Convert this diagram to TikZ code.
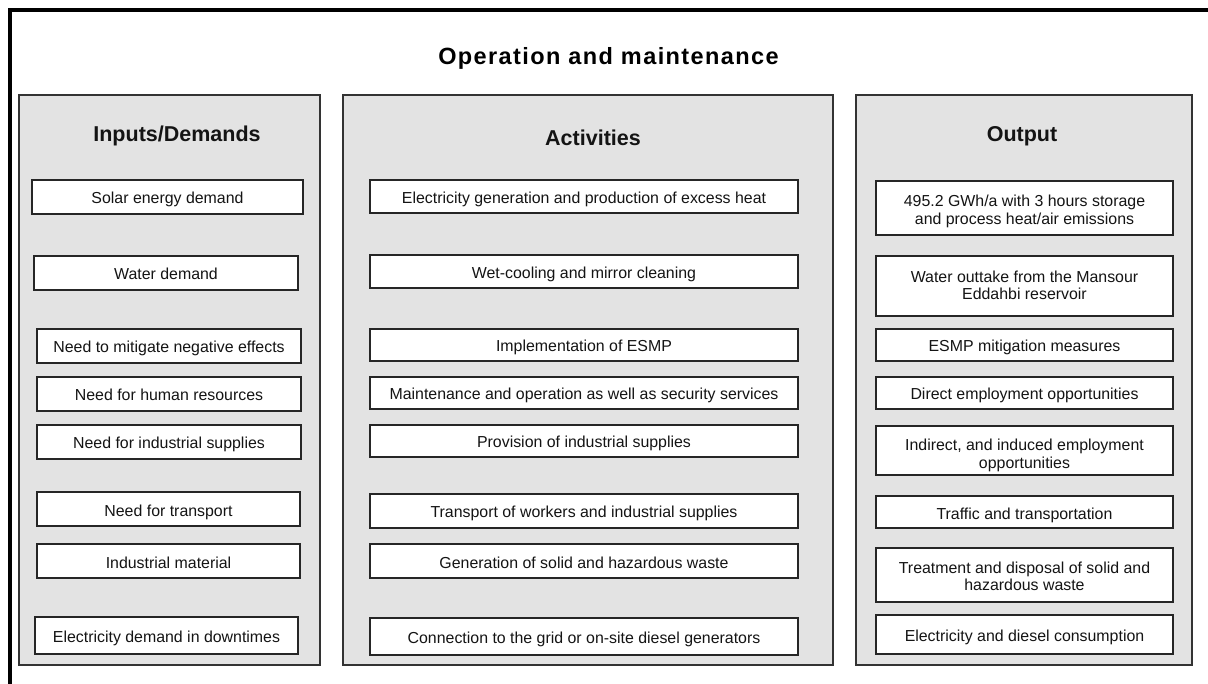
\documentclass[tikz,border=0pt]{standalone}
\usepackage{fontspec}
\setmainfont{Liberation Sans}
\begin{document}
\begin{tikzpicture}[x=1pt,y=-1pt,
  panel/.style={draw=black!80,line width=1.3pt,fill=black!11},
  item/.style={draw=black!85,line width=1.5pt,fill=white,inner sep=0pt,align=center,
    text=black!92,font=\fontsize{15.9}{17.5}\selectfont,text height=14pt,text depth=0pt},
  boxonly/.style={draw=black!85,line width=1.5pt,fill=white,inner sep=0pt},
  itemtext/.style={align=center,inner sep=0pt,text=black!92,font=\fontsize{15.9}{17.5}\selectfont},
  head/.style={font=\fontsize{21.5}{24}\selectfont\bfseries,text=black!92},
  ttl/.style={font=\fontsize{23.5}{26}\selectfont\bfseries\addfontfeature{LetterSpace=6},text=black}]
\useasboundingbox (0,0) rectangle (1208,684);
\fill[white] (0,0) rectangle (1208,684);
% outer frame (top and left edges visible)
\draw[line width=3.5pt,black] (1212,10) -- (10,10) -- (10,690);
\node[ttl] (title) at (608.5,58) {Operation and maintenance};
% panels
\draw[panel] (19,95) rectangle (320,665);
\draw[panel] (343,95) rectangle (833,665);
\draw[panel] (856,95) rectangle (1192,665);
\node[head] (hin) at (177,136) {Inputs/Demands};
\node[head] (hact) at (593,138) {Activities};
\node[head] (hout) at (1022,136.5) {Output};
% inputs
\node[item,minimum width=271pt,minimum height=34pt] (l1) at (167.5,197) {Solar energy demand};
\node[item,minimum width=264pt,minimum height=34pt] (l2) at (166,273) {Water demand};
\node[item,minimum width=264pt,minimum height=34pt] (l3) at (169,346) {Need to mitigate negative effects};
\node[item,minimum width=264pt,minimum height=34pt] (l4) at (169,394) {Need for human resources};
\node[item,minimum width=264pt,minimum height=34pt] (l5) at (169,442) {Need for industrial supplies};
\node[item,minimum width=263pt,minimum height=34pt] (l6) at (168.5,509) {Need for transport};
\node[item,minimum width=263pt,minimum height=34pt] (l7) at (168.5,561) {Industrial material};
\node[item,minimum width=263pt,minimum height=37pt] (l8) at (166.5,635.5) {Electricity demand in downtimes};
% activities
\node[item,minimum width=428pt,minimum height=33pt] (m1) at (584,196.5) {Electricity generation and production of excess heat};
\node[item,minimum width=428pt,minimum height=33pt] (m2) at (584,271.5) {Wet-cooling and mirror cleaning};
\node[item,minimum width=428pt,minimum height=32pt] (m3) at (584,345) {Implementation of ESMP};
\node[item,minimum width=428pt,minimum height=32pt] (m4) at (584,393) {Maintenance and operation as well as security services};
\node[item,minimum width=428pt,minimum height=32pt] (m5) at (584,441) {Provision of industrial supplies};
\node[item,minimum width=428pt,minimum height=34pt] (m6) at (584,511) {Transport of workers and industrial supplies};
\node[item,minimum width=428pt,minimum height=34pt] (m7) at (584,561) {Generation of solid and hazardous waste};
\node[item,minimum width=428pt,minimum height=37pt] (m8) at (584,636.5) {Connection to the grid or on-site diesel generators};
% outputs
\node[boxonly,minimum width=297pt,minimum height=54pt] (r1) at (1024.5,208) {};
\node[itemtext] (r1t) at (1024.5,211.5) {495.2 GWh/a with 3 hours storage\\and process heat/air emissions};
\node[boxonly,minimum width=297pt,minimum height=60pt] (r2) at (1024.5,286) {};
\node[itemtext] (r2t) at (1024.5,285.5) {Water outtake from the Mansour\\Eddahbi reservoir};
\node[item,minimum width=297pt,minimum height=32pt] (r3) at (1024.5,345) {ESMP mitigation measures};
\node[item,minimum width=297pt,minimum height=32pt] (r4) at (1024.5,393) {Direct employment opportunities};
\node[boxonly,minimum width=297pt,minimum height=49pt] (r5) at (1024.5,450.5) {};
\node[itemtext] (r5t) at (1024.5,455.5) {Indirect, and induced employment\\opportunities};
\node[item,minimum width=297pt,minimum height=32pt] (r6) at (1024.5,512) {Traffic and transportation};
\node[boxonly,minimum width=297pt,minimum height=54pt] (r7) at (1024.5,575) {};
\node[itemtext] (r7t) at (1024.5,576.5) {Treatment and disposal of solid and\\hazardous waste};
\node[item,minimum width=297pt,minimum height=39pt] (r8) at (1024.5,634.5) {Electricity and diesel consumption};
\end{tikzpicture}
\end{document}
